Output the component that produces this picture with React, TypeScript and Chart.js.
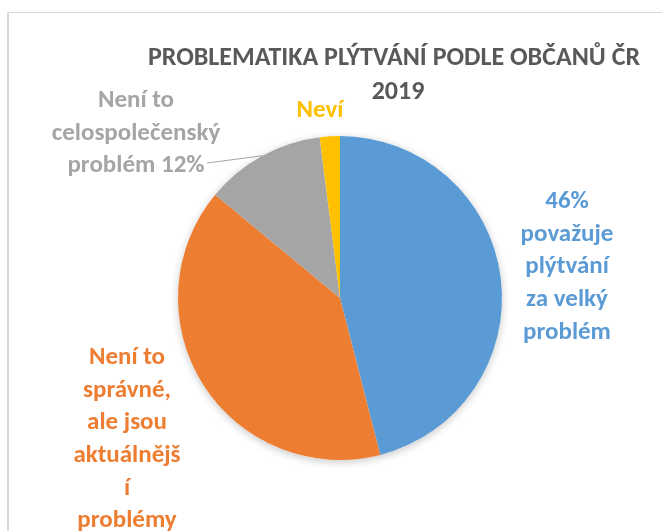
import React, { useEffect, useRef } from "react";
import { Chart, registerables } from "chart.js";

Chart.register(...registerables);

const categories = [
  "46% považuje plýtvání za velký problém",
  "Není to správné, ale jsou aktuálnější problémy",
  "Není to celospolečenský problém 12%",
  "Neví",
];
const values = [46, 40, 12, 2];
const colors = ["#5B9BD5", "#ED7D31", "#A5A5A5", "#FFC000"];
const titleLines = ["PROBLEMATIKA PLÝTVÁNÍ PODLE OBČANŮ ČR", "2019"];
const labelLines = [
  [`${values[0]}%`, "považuje", "plýtvání", "za velký", "problém"],
  ["Není to", "správné,", "ale jsou", "aktuálnějš", "í", "problémy"],
  ["Není to", "celospolečenský", `problém ${values[2]}%`],
  ["Neví"],
];

const FONT = "Carlito, 'Liberation Sans Narrow', 'Open Sans', sans-serif";

export default function App() {
  const ref = useRef<HTMLCanvasElement>(null);
  useEffect(() => {
    document.body.style.margin = "0";
    const canvas = ref.current!;
    const overlay = {
      id: "overlay",
      beforeDraw(chart: any) {
        const ctx = chart.ctx;
        ctx.save();
        ctx.fillStyle = "#ffffff";
        ctx.fillRect(0, 0, chart.width, chart.height);
        ctx.strokeStyle = "#D9D9D9";
        ctx.lineWidth = 2;
        ctx.beginPath();
        ctx.moveTo(8, chart.height);
        ctx.lineTo(8, 12.5);
        ctx.stroke();
        ctx.lineWidth = 1;
        ctx.beginPath();
        ctx.moveTo(8, 12.5);
        ctx.lineTo(chart.width, 12.5);
        ctx.stroke();
        ctx.restore();
      },
      beforeDatasetsDraw(chart: any) {
        const ctx = chart.ctx;
        ctx.save();
        ctx.shadowColor = "rgba(0,0,0,0.22)";
        ctx.shadowBlur = 9;
        ctx.shadowOffsetY = 2;
        const meta = chart.getDatasetMeta(0);
        const arc = meta.data[0];
        ctx.fillStyle = "#ffffff";
        ctx.beginPath();
        ctx.arc(arc.x, arc.y, arc.outerRadius, 0, Math.PI * 2);
        ctx.fill();
        ctx.restore();
      },
      afterDraw(chart: any) {
        const ctx = chart.ctx;
        ctx.save();
        ctx.textAlign = "center";
        ctx.textBaseline = "middle";
        ctx.fillStyle = "#595959";
        ctx.font = `bold 26px ${FONT}`;
        ctx.fillText(titleLines[0], 394, 58);
        ctx.fillText(titleLines[1], 398, 92);

        ctx.font = `bold 25px ${FONT}`;
        const pos = [
          { x: 567, y: 202 },
          { x: 127, y: 358 },
          { x: 136, y: 101 },
          { x: 320, y: 111 },
        ];
        const lh = 32.6;
        labelLines.forEach((lines, i) => {
          ctx.fillStyle = colors[i];
          lines.forEach((t, j) => ctx.fillText(t, pos[i].x, pos[i].y + j * lh));
        });
        // leader line for gray label
        const meta = chart.getDatasetMeta(0);
        const a = meta.data[2];
        ctx.strokeStyle = "#A5A5A5";
        ctx.lineWidth = 1.2;
        ctx.beginPath();
        ctx.moveTo(207, 163);
        ctx.lineTo(a.x + Math.cos(-2.07) * a.outerRadius, a.y + Math.sin(-2.07) * a.outerRadius);
        ctx.stroke();
        ctx.restore();
      },
    };
    const chart = new Chart(canvas, {
      type: "pie",
      data: {
        labels: categories,
        datasets: [
          {
            data: values,
            backgroundColor: colors,
            borderWidth: 0,
          },
        ],
      },
      options: {
        responsive: false,
        animation: false,
        layout: { padding: { left: 178, right: 160, top: 136, bottom: 71 } },
        plugins: {
          legend: { display: false },
          title: { display: false },
          tooltip: { enabled: false },
        },
      },
      plugins: [overlay],
    });
    return () => chart.destroy();
  }, []);
  return (
    <canvas ref={ref} width={662} height={531} style={{ display: "block", width: 662, height: 531 }} />
  );
}
